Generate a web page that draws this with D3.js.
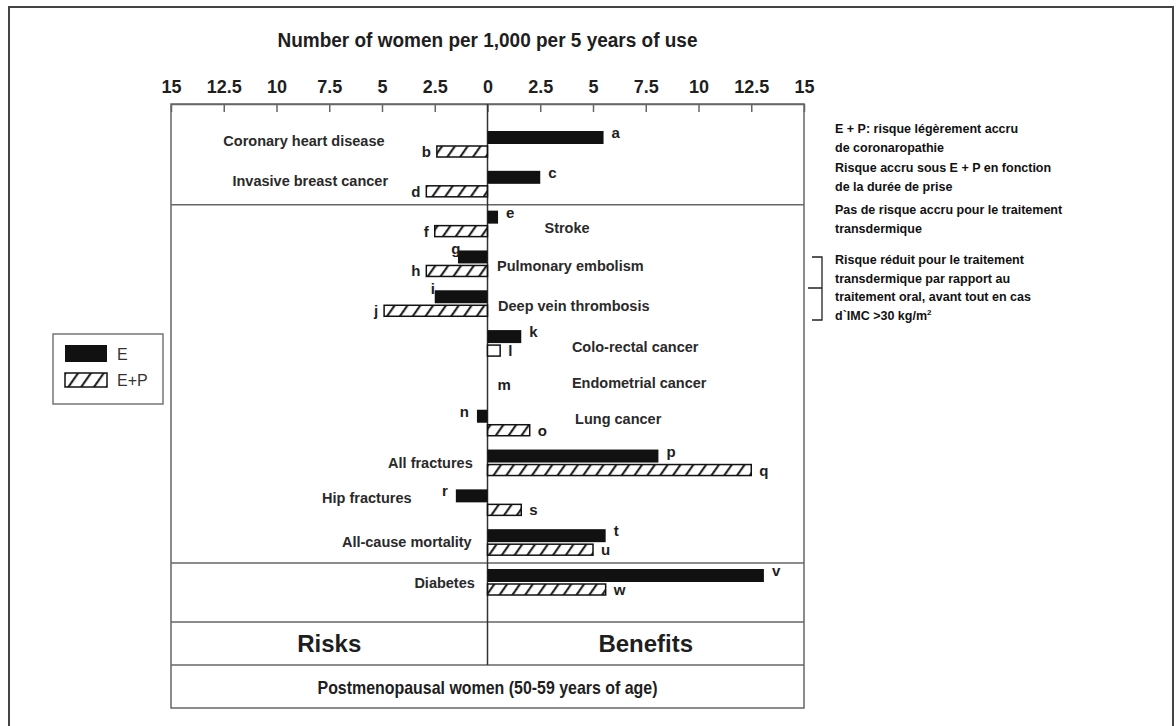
<!DOCTYPE html>
<html>
<head>
<meta charset="utf-8">
<script src="https://cdn.jsdelivr.net/npm/d3@7"></script>
<style>
  body { margin: 0; background: #fff; }
  svg { display: block; }
</style>
</head>
<body>
<div id="chart"></div>
<script>
// categories, top to bottom
const categories = ["Coronary heart disease", "Invasive breast cancer", "Stroke", "Pulmonary embolism",
  "Deep vein thrombosis", "Colo-rectal cancer", "Endometrial cancer", "Lung cancer",
  "All fractures", "Hip fractures", "All-cause mortality", "Diabetes"]

// values per 1,000 women per 5 years, negative = risk (left), positive = benefit (right)
const eValues  = [5.5, 2.5, 0.5, -1.4, -2.5, 1.6, null, -0.5, 8.1, -1.5, 5.6, 13.1]
const epValues = [-2.4, -2.9, -2.5, -2.9, -4.9, 0.6, null, 2.0, 12.5, 1.6, 5.0, 5.6]
const eLetters  = ["a", "c", "e", "g", "i", "k", "m", "n", "p", "r", "t", "v"]
const epLetters = ["b", "d", "f", "h", "j", "l", "", "o", "q", "s", "u", "w"]

const tickValues = [-15, -12.5, -10, -7.5, -5, -2.5, 0, 2.5, 5, 7.5, 10, 12.5, 15]

const notes = [
  ["E + P: risque légèrement accru", "de coronaropathie"],
  ["Risque accru sous E + P en fonction", "de la durée de prise"],
  ["Pas de risque accru pour le traitement", "transdermique"],
  ["Risque réduit pour le traitement", "transdermique par rapport au", "traitement oral, avant tout en cas", "d`IMC >30 kg/m²"]
]

const W = 1176, H = 726
const sans = "'Liberation Sans', Arial, sans-serif"
const ink = "#1e1e1e", lineCol = "#666"

const svg = d3.select("#chart").append("svg")
  .attr("width", W).attr("height", H)

// hatch for E+P
const defs = svg.append("defs")
defs.append("pattern")
  .attr("id", "hatch")
  .attr("patternUnits", "userSpaceOnUse")
  .attr("width", 10.5).attr("height", 10.5)
  .attr("patternTransform", "rotate(35)")
  .append("line")
    .attr("x1", 5).attr("y1", 0).attr("x2", 5).attr("y2", 10.5)
    .attr("stroke", "#111").attr("stroke-width", 2)

// outer frame
svg.append("path")
  .attr("d", `M9,${H} V7 H1173 V${H}`)
  .attr("fill", "none").attr("stroke", "#444").attr("stroke-width", 2)

const plotTop = 104, plotBottom = 622, rbBottom = 665, boxBottom = 708
const x = d3.scaleLinear().domain([-15, 15]).range([171, 804])
const y = d3.scalePoint().domain(categories).range([145, 583])

// axis title
svg.append("text")
  .attr("x", x(0)).attr("y", 47)
  .attr("text-anchor", "middle")
  .attr("font-family", sans).attr("font-weight", "bold").attr("font-size", 20)
  .attr("textLength", 420).attr("lengthAdjust", "spacingAndGlyphs")
  .attr("fill", ink)
  .text("Number of women per 1,000 per 5 years of use")

// top axis, ticks pointing into the plot
const axis = svg.append("g")
  .attr("transform", `translate(0,${plotTop})`)
  .call(d3.axisTop(x).tickValues(tickValues).tickFormat(d => Math.abs(d))
    .tickSizeInner(-8).tickSizeOuter(0).tickPadding(11))
axis.select(".domain").attr("stroke", lineCol).attr("stroke-width", 1.5)
axis.selectAll(".tick line").attr("stroke", lineCol).attr("stroke-width", 1.5)
axis.selectAll(".tick text")
  .attr("font-family", sans).attr("font-weight", "bold").attr("font-size", 18)
  .attr("fill", ink)

// frame of the plot and its sections
const sepY = [
  (y(categories[1]) + y(categories[2])) / 2,
  (y(categories[10]) + y(categories[11])) / 2,
  plotBottom, rbBottom
]
const frame = svg.append("g").attr("stroke", lineCol).attr("stroke-width", 1.5).attr("fill", "none")
frame.append("rect").attr("x", x(-15)).attr("y", plotTop)
  .attr("width", x(15) - x(-15)).attr("height", boxBottom - plotTop)
frame.selectAll("line.sep").data(sepY).enter().append("line")
  .attr("x1", x(-15)).attr("x2", x(15))
  .attr("y1", d => d).attr("y2", d => d)
frame.append("line")
  .attr("x1", x(0)).attr("x2", x(0)).attr("y1", plotTop).attr("y2", rbBottom)
  .attr("stroke", "#333")

// bars
const eH = 13, epH = 11
const rows = categories.map((c, i) => ({ c, i, e: eValues[i], ep: epValues[i] }))

svg.selectAll("rect.e").data(rows.filter(d => d.e !== null)).enter()
  .append("rect").attr("class", "e")
  .attr("x", d => x(Math.min(0, d.e)))
  .attr("y", d => y(d.c) - eH - 1)
  .attr("width", d => Math.abs(x(d.e) - x(0)))
  .attr("height", eH)
  .attr("fill", "#111")

svg.selectAll("rect.ep").data(rows.filter(d => d.ep !== null)).enter()
  .append("rect").attr("class", "ep")
  .attr("x", d => x(Math.min(0, d.ep)))
  .attr("y", d => y(d.c) + 1)
  .attr("width", d => Math.abs(x(d.ep) - x(0)))
  .attr("height", epH)
  .attr("fill", d => Math.abs(d.ep) < 1 ? "#fff" : "url(#hatch)")
  .attr("stroke", "#111").attr("stroke-width", 1.5)

// letters next to the bars
const letterFont = g => g.attr("font-family", sans).attr("font-weight", "bold")
  .attr("font-size", 15).attr("fill", ink)

svg.selectAll("text.el").data(rows).enter()
  .append("text").attr("class", "el")
  .call(letterFont)
  .attr("text-anchor", d => d.e === null ? "start" : (d.e > 0 ? "start" : (d.ep < d.e ? "middle" : "end")))
  .attr("x", d => {
    if (d.e === null) return x(0) + 10
    if (d.e > 0) return x(d.e) + 8
    if (d.ep < d.e) return x(d.e) - 2
    return x(d.e) - 8
  })
  .attr("y", d => {
    const yc = y(d.c)
    if (d.e === null) return yc + 6
    if (d.e < 0 && d.ep < d.e) return yc - 10
    return yc - 7
  })
  .text((d, i) => eLetters[i])

svg.selectAll("text.epl").data(rows.filter(d => d.ep !== null)).enter()
  .append("text").attr("class", "epl")
  .call(letterFont)
  .attr("text-anchor", d => d.ep > 0 ? "start" : "end")
  .attr("x", d => d.ep > 0 ? x(d.ep) + 8 : x(d.ep) - 6)
  .attr("y", d => y(d.c) + 12)
  .text(d => epLetters[d.i])

// category labels: side, anchor value (in axis units) and small vertical nudge
const labelLayout = [
  { a: "middle", v: -8.7, dy: 1 }, { a: "middle", v: -8.4, dy: 1 },
  { a: "start", v: 2.7, dy: 8 }, { a: "start", v: 0.45, dy: 7 },
  { a: "start", v: 0.5, dy: 7 }, { a: "start", v: 4.0, dy: 8 },
  { a: "start", v: 4.0, dy: 4 }, { a: "start", v: 4.15, dy: 0 },
  { a: "end", v: -0.7, dy: 4 }, { a: "end", v: -3.6, dy: 0 },
  { a: "end", v: -0.75, dy: 4 }, { a: "end", v: -0.6, dy: 5 }
]
svg.selectAll("text.cat").data(rows).enter()
  .append("text").attr("class", "cat")
  .attr("font-family", sans).attr("font-weight", "bold").attr("font-size", 14.5)
  .attr("fill", "#2a2a2a")
  .attr("text-anchor", d => labelLayout[d.i].a)
  .attr("x", d => x(labelLayout[d.i].v))
  .attr("y", d => y(d.c) + labelLayout[d.i].dy)
  .text(d => d.c)

// risks / benefits / population
svg.selectAll("text.rb").data(["Risks", "Benefits"]).enter()
  .append("text")
  .attr("x", (d, i) => i ? x(7.5) : x(-7.5))
  .attr("y", 652)
  .attr("text-anchor", "middle")
  .attr("font-family", sans).attr("font-weight", "bold").attr("font-size", 24)
  .attr("fill", ink)
  .text(d => d)
svg.append("text")
  .attr("x", x(0)).attr("y", 694)
  .attr("text-anchor", "middle")
  .attr("font-family", sans).attr("font-weight", "bold").attr("font-size", 19)
  .attr("textLength", 340).attr("lengthAdjust", "spacingAndGlyphs")
  .attr("fill", ink)
  .text("Postmenopausal women (50-59 years of age)")

// legend
const lg = svg.append("g")
lg.append("rect").attr("x", 53).attr("y", 334).attr("width", 110).attr("height", 70)
  .attr("fill", "#fff").attr("stroke", "#777").attr("stroke-width", 1.5)
lg.append("rect").attr("x", 65).attr("y", 345).attr("width", 42).attr("height", 17).attr("fill", "#111")
lg.append("rect").attr("x", 65).attr("y", 373).attr("width", 42).attr("height", 14)
  .attr("fill", "url(#hatch)").attr("stroke", "#111").attr("stroke-width", 1.5)
lg.selectAll("text").data(["E", "E+P"]).enter().append("text")
  .attr("x", 117).attr("y", (d, i) => 360 + i * 26)
  .attr("font-family", sans).attr("font-size", 16)
  .attr("fill", "#333")
  .text(d => d)

// notes on the right
const noteTop = [133, 172, 214, 264]
const nt = svg.append("g")
  .attr("font-family", sans).attr("font-weight", "bold")
  .attr("font-size", 12.5).attr("fill", "#111")
notes.forEach((lines, k) => {
  lines.forEach((t, j) => {
    const tx = nt.append("text").attr("x", 835).attr("y", noteTop[k] + j * 18.5)
    if (t.endsWith("m²")) {
      tx.text(t.slice(0, -1))
      tx.append("tspan").attr("font-size", 8).attr("dy", -5).text("2")
    } else tx.text(t)
  })
})

// bracket for the VTE rows
svg.append("path")
  .attr("d", "M812,257 H822 V320 H812 M808,288 H822")
  .attr("fill", "none").attr("stroke", "#222").attr("stroke-width", 1.3)
</script>
</body>
</html>
